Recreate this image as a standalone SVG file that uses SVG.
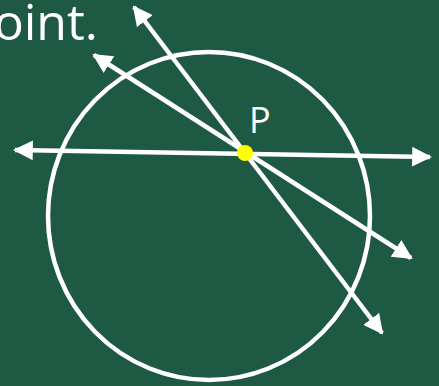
<svg xmlns="http://www.w3.org/2000/svg" width="439" height="386" viewBox="0 0 439 386">
<defs>
<style>
.ln{stroke:#fff;stroke-width:4.5;fill:none;stroke-linecap:butt}
.lbl{font-family:"Open Sans","Noto Sans",sans-serif;fill:#fff}
</style>
<marker id="ah" viewBox="0 0 10 10" refX="9" refY="5" markerWidth="4.4" markerHeight="4.4" orient="auto-start-reverse" markerUnits="strokeWidth">
<path d="M0,0 L10,5 L0,10 z" fill="#fff"/>
</marker>
</defs>
<rect width="439" height="386" fill="#1e5943"/>
<text class="lbl" x="98" y="40" font-size="50" text-anchor="end">oint.</text>
<g id="circle">
<ellipse cx="209" cy="216" rx="161" ry="164" class="ln"/>
</g>
<g id="connectors">
<line class="ln" x1="15" y1="150" x2="430" y2="157" marker-start="url(#ah)" marker-end="url(#ah)"/>
<line class="ln" x1="134" y1="7" x2="382" y2="333" marker-start="url(#ah)" marker-end="url(#ah)"/>
<line class="ln" x1="94" y1="55" x2="411" y2="258" marker-start="url(#ah)" marker-end="url(#ah)"/>
</g>
<g id="P">
<circle cx="245" cy="153" r="8" fill="#ffff00"/>
<text class="lbl" x="249" y="133" font-size="36">P</text>
</g>
</svg>
